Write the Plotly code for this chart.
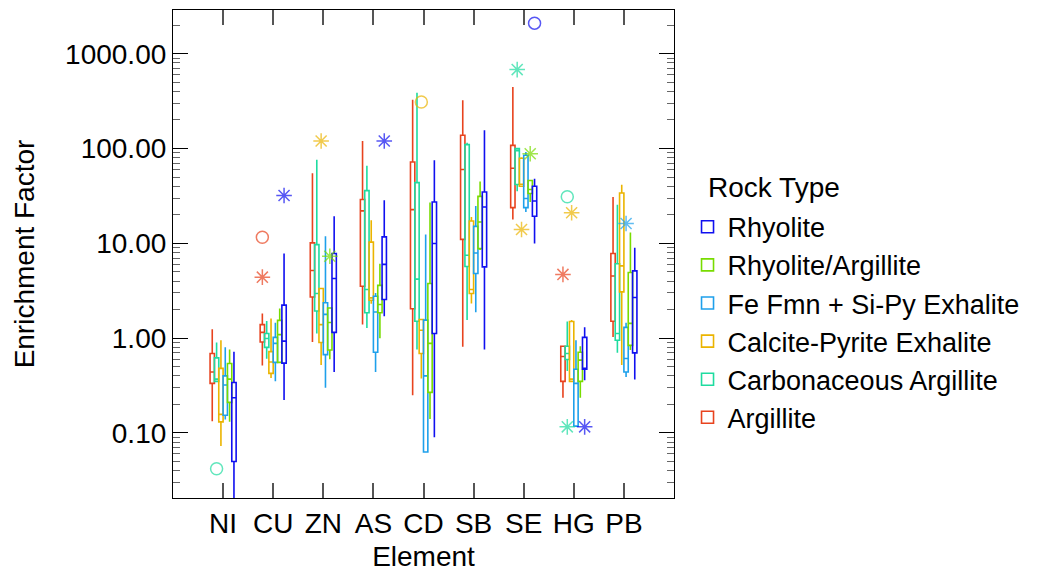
import plotly.graph_objects as go

elements = ["NI", "CU", "ZN", "AS", "CD", "SB", "SE", "HG", "PB"]

# Trace order: left-to-right within each element group
rock_types = ["Argillite", "Carbonaceous Argillite", "Calcite-Pyrite Exhalite",
              "Fe Fmn + Si-Py Exhalite", "Rhyolite/Argillite", "Rhyolite"]
colors = ["#E8431E", "#1EDCA0", "#EBB400", "#1EA0EB", "#78DC00", "#1010F0"]

# statistics per rock type, one value per element
lower = {
    "Argillite":               [0.133, 0.515, 0.91, 1.39, 0.25, 0.81, 17.8, 0.235, 1.03],
    "Carbonaceous Argillite":  [0.35, 0.605, 1.12, 1.28, 0.76, 1.55, 35.4, 0.45, 0.70],
    "Calcite-Pyrite Exhalite": [0.073, 0.38, 0.52, 2.3, 0.376, 2.32, 40, 0.35, 0.52],
    "Fe Fmn + Si-Py Exhalite": [0.139, 0.35, 0.30, 0.44, 0.062, 1.87, 21.4, 0.118, 0.39],
    "Rhyolite/Argillite":      [0.131, 0.55, 0.60, 1.0, 0.14, 8.5, 27.3, 0.235, 0.75],
    "Rhyolite":                [0.01, 0.222, 0.44, 1.7, 0.09, 0.76, 9.95, 0.36, 0.367],
}
q1 = {
    "Argillite":               [0.333, 0.91, 2.72, 3.53, 2.04, 11.0, 23.8, 0.35, 1.51],
    "Carbonaceous Argillite":  [0.35, 0.80, 1.93, 1.85, 1.51, 5.7, 41.7, 0.595, 0.95],
    "Calcite-Pyrite Exhalite": [0.131, 0.425, 0.90, 2.51, 0.69, 2.96, 40, 0.35, 3.08],
    "Fe Fmn + Si-Py Exhalite": [0.154, 0.555, 0.67, 0.71, 0.063, 4.8, 23.8, 0.118, 0.44],
    "Rhyolite/Argillite":      [0.21, 0.555, 0.75, 1.85, 0.268, 8.8, 33.5, 0.35, 0.84],
    "Rhyolite":                [0.05, 0.545, 1.15, 2.56, 1.12, 5.64, 19.3, 0.47, 0.70],
}
median = {
    "Argillite":               [0.44, 1.15, 5.17, 22, 22.7, 60, 62, 0.64, 4.53],
    "Carbonaceous Argillite":  [0.37, 0.99, 2.96, 3.26, 4.19, 7.5, 95, 0.69, 1.12],
    "Calcite-Pyrite Exhalite": [0.157, 0.56, 1.39, 2.66, 1.21, 3.26, 42, 0.37, 5.78],
    "Fe Fmn + Si-Py Exhalite": [0.32, 0.88, 1.78, 1.89, 0.40, 7.9, 29.7, 0.333, 0.61],
    "Rhyolite/Argillite":      [0.37, 1.09, 1.46, 2.26, 0.88, 16.8, 36.9, 0.586, 1.43],
    "Rhyolite":                [0.235, 0.93, 4.26, 6.0, 9.96, 24.2, 28, 0.48, 2.68],
}
q3 = {
    "Argillite":               [0.69, 1.39, 10.1, 29, 72, 138, 108, 0.82, 7.8],
    "Carbonaceous Argillite":  [0.62, 1.12, 9.7, 36, 43.7, 110, 99.8, 0.82, 6.1],
    "Calcite-Pyrite Exhalite": [0.48, 0.72, 3.34, 10.3, 1.57, 17.2, 79, 1.5, 34],
    "Fe Fmn + Si-Py Exhalite": [0.40, 1.02, 2.36, 2.77, 1.55, 15.1, 85, 0.47, 1.30],
    "Rhyolite/Argillite":      [0.54, 1.54, 2.08, 3.6, 3.77, 31.3, 46, 0.71, 4.92],
    "Rhyolite":                [0.34, 2.23, 7.8, 11.7, 27.3, 34.8, 40, 1.02, 5.12],
}
upper = {
    "Argillite":               [1.24, 1.82, 55, 120, 327, 322, 445, 0.82, 30.8],
    "Carbonaceous Argillite":  [0.90, 1.52, 76, 66, 388, 115, 101, 1.5, 25.6],
    "Calcite-Pyrite Exhalite": [0.95, 1.61, 3.4, 17.5, 1.6, 19, 81, 1.55, 41.6],
    "Fe Fmn + Si-Py Exhalite": [0.80, 1.45, 11.9, 3.0, 12.4, 24.8, 92, 0.95, 1.45],
    "Rhyolite/Argillite":      [0.76, 2.06, 2.1, 6.1, 26.9, 45, 46, 0.82, 13],
    "Rhyolite":                [0.72, 7.8, 19.3, 28.5, 75, 156, 48, 1.3, 9.0],
}

# outliers: element, value, kind ("far" = circle, "near" = asterisk)
out_x = {
    "Argillite":               ["CU", "CU", "HG"],
    "Carbonaceous Argillite":  ["NI", "SE", "HG", "HG"],
    "Calcite-Pyrite Exhalite": ["ZN", "CD", "SE", "HG"],
    "Fe Fmn + Si-Py Exhalite": ["PB"],
    "Rhyolite/Argillite":      ["ZN", "SE"],
    "Rhyolite":                ["CU", "AS", "SE", "HG"],
}
out_y = {
    "Argillite":               [11.6, 4.4, 4.7],
    "Carbonaceous Argillite":  [0.042, 680, 31, 0.116],
    "Calcite-Pyrite Exhalite": [120, 310, 14, 21],
    "Fe Fmn + Si-Py Exhalite": [16.2],
    "Rhyolite/Argillite":      [7.3, 88],
    "Rhyolite":                [32, 120, 2100, 0.116],
}
out_kind = {
    "Argillite":               ["far", "near", "near"],
    "Carbonaceous Argillite":  ["far", "near", "far", "near"],
    "Calcite-Pyrite Exhalite": ["near", "far", "near", "near"],
    "Fe Fmn + Si-Py Exhalite": ["near"],
    "Rhyolite/Argillite":      ["near", "near"],
    "Rhyolite":                ["near", "near", "far", "near"],
}

y_tickvals = [0.1, 1, 10, 100, 1000]

FONT = "Arial, Liberation Sans, sans-serif"
fig = go.Figure()

for rt, col in zip(rock_types, colors):
    fig.add_trace(go.Box(
        x=elements, q1=q1[rt], median=median[rt], q3=q3[rt],
        lowerfence=lower[rt], upperfence=upper[rt],
        name=rt, offsetgroup=rt,
        line=dict(color=col, width=1.6),
        fillcolor="rgba(255,255,255,0)",
        whiskerwidth=0, boxpoints=False, hoverinfo="skip",
    ))

for rt, col in zip(rock_types, colors):
    symbols = ["circle-open" if k == "far" else "asterisk-open" for k in out_kind[rt]]
    sizes = [12 if k == "far" else 13 for k in out_kind[rt]]
    fig.add_trace(go.Scatter(
        x=out_x[rt], y=out_y[rt], mode="markers", showlegend=False,
        offsetgroup=rt, hoverinfo="skip",
        marker=dict(symbol=symbols, size=sizes, color=col,
                    line=dict(color=col, width=1.5)),
    ))

fig.update_layout(
    width=1064, height=573,
    margin=dict(l=173, r=390, t=10, b=75),
    paper_bgcolor="white", plot_bgcolor="white",
    font=dict(family=FONT, size=28, color="black"),
    boxmode="group", boxgap=0.48, boxgroupgap=0.0,
    scattermode="group", scattergap=0.48,
    legend=dict(
        traceorder="reversed",
        x=1.027, xanchor="left", y=0.605, yanchor="top",
        font=dict(size=27), bgcolor="rgba(0,0,0,0)",
    ),
    annotations=[dict(
        text="Rock Type", xref="paper", yref="paper",
        x=1.063, y=0.637, xanchor="left", yanchor="middle",
        showarrow=False, font=dict(size=28),
    )],
)

fig.update_xaxes(
    type="category", categoryorder="array", categoryarray=elements,
    range=[-1, len(elements)], automargin=False,
    title=dict(text="Element", font=dict(size=28), standoff=8),
    showline=True, linecolor="black", linewidth=1.2, mirror="allticks",
    ticks="inside", ticklen=15, tickcolor="#555555", tickwidth=1.5,
    tickfont=dict(size=28), showgrid=False, zeroline=False,
)
fig.update_yaxes(
    type="log", range=[-1.686, 3.461], automargin=False,
    tickmode="array", tickvals=y_tickvals, tickformat=".2f",
    title=dict(text="Enrichment Factor", font=dict(size=28), standoff=22),
    showline=True, linecolor="black", linewidth=1.2, mirror="allticks",
    ticks="inside", ticklen=15, tickcolor="black", tickwidth=1.2,
    minor=dict(ticks="inside", ticklen=7, tickcolor="#666666", tickwidth=1.2,
               dtick="D1", showgrid=False),
    tickfont=dict(size=28), showgrid=False, zeroline=False,
)

fig.write_html("out.html", config={"displayModeBar": False},
               post_script="document.body.style.margin='0';")
